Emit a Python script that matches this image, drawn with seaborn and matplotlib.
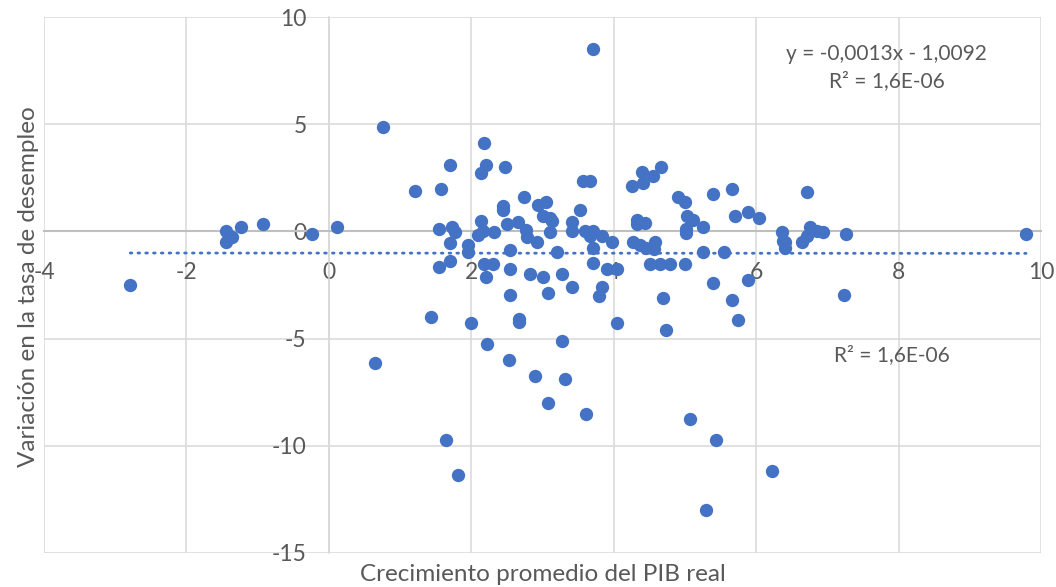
# crecimiento del PIB vs variacion del desempleo (estilo Excel)

import matplotlib
matplotlib.use('Agg')
import matplotlib.pyplot as plt
import seaborn as sns
import pandas as pd
import numpy as np

crecimiento_pib = [
    -2.79, -1.45, -1.36, -1.45, -1.23, -0.92, -0.24, 0.12, 0.76, 0.65,
    1.21, 1.58, 1.70, 1.55, 1.73, 1.77, 1.70, 1.96, 1.96, 1.55,
    1.70, 1.43, 2.00, 2.22, 2.53, 1.65, 1.81, 2.18, 2.21, 2.14,
    2.48, 2.44, 2.45, 2.14, 2.17, 2.10, 2.32, 2.50, 2.54, 2.18,
    2.31, 2.21, 2.54, 2.54, 3.57, 3.66, 2.74, 2.94, 3.05, 3.01,
    3.10, 3.13, 3.53, 2.66, 2.77, 2.78, 3.11, 3.41, 3.42, 3.60,
    3.71, 3.67, 3.84, 3.98, 3.71, 2.92, 3.20, 2.82, 3.01, 3.27,
    3.71, 3.90, 4.05, 3.42, 3.08, 3.83, 3.80, 4.25, 4.39, 4.41,
    4.55, 4.66, 4.90, 4.32, 4.32, 4.44, 4.27, 4.37, 4.46, 4.58,
    4.57, 4.51, 4.65, 4.79, 5.00, 4.69, 2.67, 2.67, 4.05, 4.73,
    3.27, 2.89, 3.31, 3.08, 3.61, 5.00, 5.40, 5.66, 5.70, 5.89,
    6.04, 5.03, 5.11, 5.26, 5.02, 5.02, 6.36, 6.38, 6.40, 6.40,
    6.71, 6.75, 6.85, 6.94, 6.71, 6.64, 7.26, 9.79, 5.25, 5.55,
    5.40, 5.89, 5.66, 7.23, 5.74, 5.07, 5.44, 6.22, 5.29, 3.71,
]

variacion_desempleo = [
    -2.50, 0.00, -0.28, -0.50, 0.23, 0.37, -0.14, 0.22, 4.87, -6.13,
    1.87, 1.98, 3.11, 0.11, 0.22, -0.01, -0.53, -0.64, -0.95, -1.64,
    -1.39, -4.00, -4.26, -5.24, -6.02, -9.76, -11.35, 4.12, 3.12, 2.73,
    3.00, 1.20, 1.00, 0.50, 0.03, -0.15, -0.01, 0.35, -0.87, -1.53,
    -1.53, -2.12, -1.76, -2.98, 2.37, 2.37, 1.63, 1.24, 1.39, 0.74,
    0.63, 0.50, 1.00, 0.42, 0.07, -0.28, -0.01, 0.42, 0.03, 0.03,
    0.03, -0.20, -0.20, -0.51, -0.75, -0.51, -0.98, -2.00, -2.12, -2.00,
    -1.45, -1.73, -1.73, -2.59, -2.86, -2.59, -3.01, 2.14, 2.76, 2.25,
    2.61, 3.00, 1.63, 0.53, 0.35, 0.38, -0.47, -0.62, -0.75, -0.47,
    -0.83, -1.50, -1.50, -1.50, -1.53, -3.09, -4.10, -4.25, -4.26, -4.62,
    -5.12, -6.76, -6.88, -8.00, -8.50, 1.39, 1.75, 1.98, 0.74, 0.89,
    0.63, 0.74, 0.53, 0.22, 0.11, -0.05, -0.01, -0.44, -0.51, -0.75,
    1.86, 0.22, 0.03, -0.01, -0.20, -0.51, -0.12, -0.12, -0.98, -0.98,
    -2.39, -2.26, -3.22, -2.96, -4.15, -8.75, -9.76, -11.20, -13.00, 8.50,
]

# linea de tendencia que muestra el grafico
pendiente = -0.0013
intercepto = -1.0092
texto_ecuacion = 'y = -0,0013x - 1,0092'
texto_r2 = 'R² = 1,6E-06'

x_ticks = [-4, -2, 0, 2, 4, 6, 8, 10]
y_ticks = [-15, -10, -5, 0, 5, 10]

azul = '#4472C4'
gris_texto = '#595959'

sns.set_style('whitegrid')
plt.rcParams['font.family'] = ['Lato', 'DejaVu Sans']
plt.rcParams['axes.unicode_minus'] = False

data = pd.DataFrame({'pib': crecimiento_pib, 'desempleo': variacion_desempleo})

fig = plt.figure(figsize=(10.56, 5.87), dpi=100)
ax = fig.add_axes([0.0417, 0.0584, 0.9441, 0.9121])

sns.scatterplot(data=data, x='pib', y='desempleo', color=azul, s=92,
                edgecolor=azul, linewidth=0, ax=ax, zorder=3)

x_linea = np.array([min(crecimiento_pib), max(crecimiento_pib)])
sns.lineplot(x=x_linea, y=pendiente * x_linea + intercepto, color=azul,
             linewidth=2.0, linestyle=(0, (0.6, 2.2)), ax=ax, zorder=2)
ax.lines[-1].set_dash_capstyle('round')

ax.set_xlim(-4, 10)
ax.set_ylim(-15, 10)
ax.set_xticks(x_ticks)
ax.set_yticks(y_ticks)
ax.grid(True, color='#d9d9d9', linewidth=1.1)

for lado in ['top', 'right']:
    ax.spines[lado].set_visible(False)
ax.spines['bottom'].set_position(('data', 0))
ax.spines['left'].set_position(('data', 0))
ax.spines['bottom'].set_color('#bfbfbf')
ax.spines['bottom'].set_linewidth(1.5)
ax.spines['left'].set_color('#d9d9d9')
ax.spines['left'].set_linewidth(1.1)

ax.tick_params(axis='x', length=0, pad=22, labelsize=16.5, labelcolor=gris_texto)
ax.tick_params(axis='y', length=0, pad=16, labelsize=16.5, labelcolor=gris_texto)

ax.set_xlabel('')
ax.set_ylabel('')
fig.text(0.514, 0.021, 'Crecimiento promedio del PIB real', ha='center',
         va='center', fontsize=17.5, color=gris_texto)
fig.text(0.027, 0.512, 'Variación en la tasa de desempleo', ha='center',
         va='center', rotation=90, fontsize=17.5, color=gris_texto)

ax.text(7.83, 8.3, texto_ecuacion, ha='center', va='center', fontsize=15,
        color=gris_texto)
ax.text(7.83, 7.0, texto_r2, ha='center', va='center', fontsize=15,
        color=gris_texto)
ax.text(7.1, -5.75, texto_r2, ha='left', va='center', fontsize=15,
        color=gris_texto)

plt.savefig('out.png', dpi=100)
